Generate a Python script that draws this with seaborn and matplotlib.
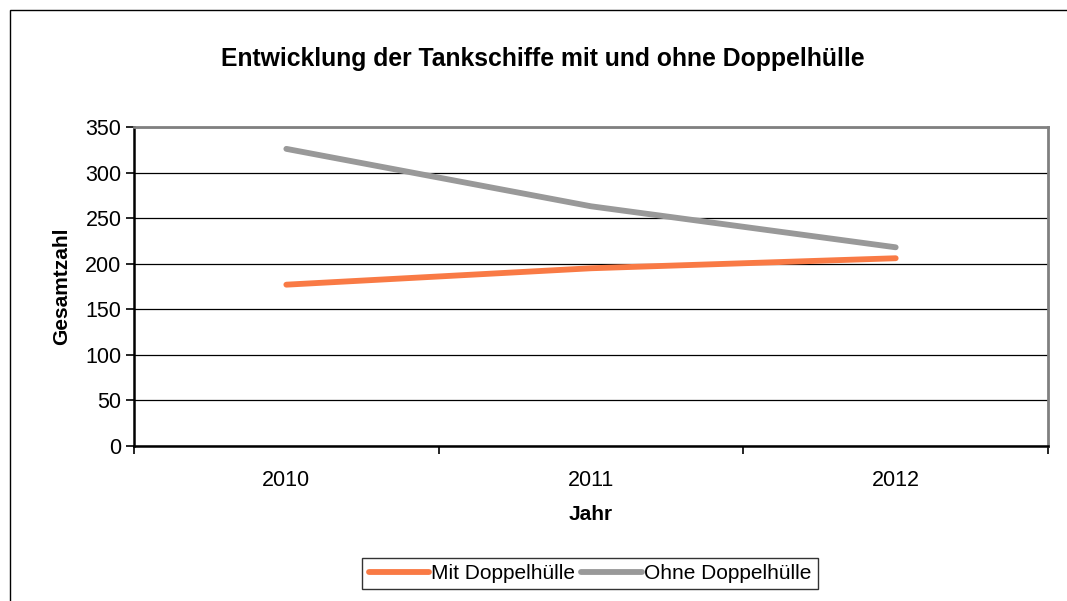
import pandas as pd
import matplotlib.pyplot as plt
import seaborn as sns
from matplotlib.patches import Rectangle

# Data
years = ['2010', '2011', '2012']
mit_doppelhuelle = [177, 195, 206]
ohne_doppelhuelle = [326, 263, 218]
series_names = ['Mit Doppelhülle', 'Ohne Doppelhülle']
y_ticks = [0, 50, 100, 150, 200, 250, 300, 350]

df = pd.DataFrame({
    'Jahr': list(range(len(years))) * 2,
    'Gesamtzahl': mit_doppelhuelle + ohne_doppelhuelle,
    'Serie': [series_names[0]] * len(years) + [series_names[1]] * len(years),
})

sns.set_style('white')
plt.rcParams['font.family'] = ['Liberation Sans', 'DejaVu Sans']
plt.rcParams['text.color'] = 'black'
plt.rcParams['axes.labelcolor'] = 'black'
plt.rcParams['xtick.color'] = 'black'
plt.rcParams['ytick.color'] = 'black'

fig = plt.figure(figsize=(10.67, 6.01), dpi=100)
ax = fig.add_axes([0.1256, 0.2579, 0.8566, 0.5308])

# outer chart border (clipped at right and bottom like the reference)
fig.patches.append(Rectangle((10 / 1067, -0.1), 1.2, 1 - 10 / 601 + 0.1,
                             transform=fig.transFigure, fill=False,
                             edgecolor='black', linewidth=1.0))

palette = {series_names[0]: '#F97A45', series_names[1]: '#999999'}
sns.lineplot(data=df, x='Jahr', y='Gesamtzahl', hue='Serie', palette=palette,
             linewidth=4.2, solid_capstyle='round', ax=ax, legend=False, zorder=3)

ax.set_xlim(-0.5, len(years) - 0.5)
ax.set_ylim(0, 350)
ax.set_yticks(y_ticks)
ax.set_yticklabels([str(v) for v in y_ticks], fontsize=15.5)
ax.yaxis.grid(True, color='black', linewidth=0.9)
ax.set_axisbelow(True)

# category ticks at the boundaries, labels at centers
ax.set_xticks([i - 0.5 for i in range(len(years) + 1)])
ax.set_xticklabels([])
ax.set_xticks(range(len(years)), minor=True)
ax.set_xticklabels(years, minor=True, fontsize=15.5)
ax.tick_params(axis='x', which='major', direction='out', length=6, width=1.2, color='black', bottom=True)
ax.tick_params(axis='x', which='minor', length=0, pad=17)
ax.tick_params(axis='y', direction='out', length=6, width=1.2, color='black', left=True, pad=3)

for side in ['left', 'bottom']:
    ax.spines[side].set_color('black')
    ax.spines[side].set_linewidth(1.8)
for side in ['top', 'right']:
    ax.spines[side].set_color('#808080')
    ax.spines[side].set_linewidth(2.0)

ax.set_xlabel('Jahr', fontsize=15, fontweight='bold', labelpad=10)
ax.set_ylabel('Gesamtzahl', fontsize=15, fontweight='bold', labelpad=10)

fig.suptitle('Entwicklung der Tankschiffe mit und ohne Doppelhülle',
             x=0.509, y=0.921, fontsize=17.8, fontweight='bold')

handles = [plt.Line2D([], [], color=palette[n], linewidth=4.2, solid_capstyle='round')
           for n in series_names]
leg = fig.legend(handles, series_names, loc='center', bbox_to_anchor=(0.553, 0.046),
                 ncol=2, fontsize=15, frameon=True, fancybox=False, handlelength=2.9,
                 handletextpad=0.1, columnspacing=0.3, borderpad=0.3, edgecolor='black')
leg.get_frame().set_linewidth(1.0)

fig.savefig('out.png', dpi=100)
